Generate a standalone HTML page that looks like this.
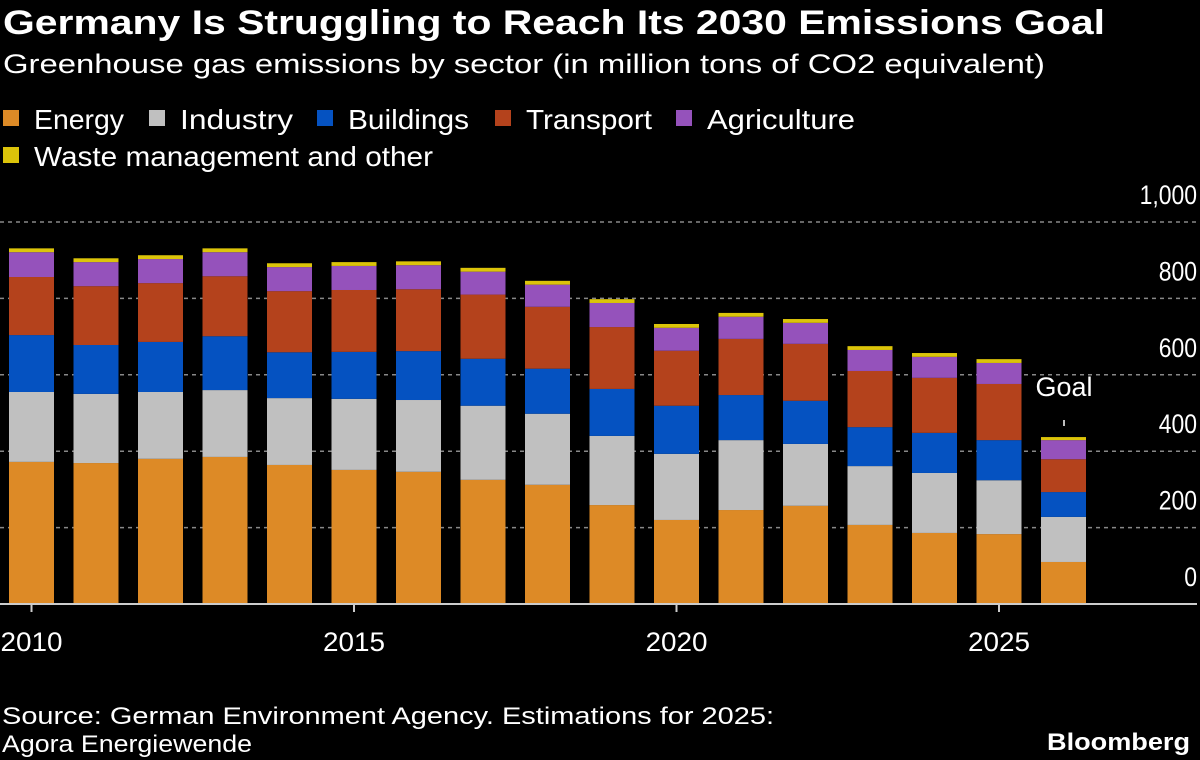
<!DOCTYPE html>
<html><head><meta charset="utf-8"><style>
html,body{margin:0;padding:0;background:#000;}
svg{display:block;font-family:"Liberation Sans",sans-serif;}
</style></head><body>
<svg id="chart" width="1200" height="760" viewBox="0 0 1200 760">
<rect width="1200" height="760" fill="#000"/>
<text x="3" y="34" font-size="34" font-weight="bold" fill="#fff" textLength="1102" lengthAdjust="spacingAndGlyphs">Germany Is Struggling to Reach Its 2030 Emissions Goal</text>
<text x="3" y="73" font-size="27" fill="#fff" textLength="1042" lengthAdjust="spacingAndGlyphs">Greenhouse gas emissions by sector (in million tons of CO2 equivalent)</text>
<g id="legend"></g>
<g id="grid"></g>
<g id="bars"></g>
<g id="axes"></g>
<text x="1064" y="396" font-size="27" fill="#fff" text-anchor="middle" textLength="57" lengthAdjust="spacingAndGlyphs">Goal</text>
<line x1="1064" y1="420" x2="1064" y2="426" stroke="#fff" stroke-width="1.5"/>
<text x="2" y="724" font-size="24" fill="#fff" textLength="772" lengthAdjust="spacingAndGlyphs">Source: German Environment Agency. Estimations for 2025:</text>
<text x="2" y="752" font-size="24" fill="#fff" textLength="250" lengthAdjust="spacingAndGlyphs">Agora Energiewende</text>
<text x="1190" y="750" font-size="24" font-weight="bold" fill="#fff" text-anchor="end" textLength="143" lengthAdjust="spacingAndGlyphs">Bloomberg</text>
</svg>
<script>
const years = [2010,2011,2012,2013,2014,2015,2016,2017,2018,2019,2020,2021,2022,2023,2024,2025,2026];
const energy = [372,369,380,385,364,351,346,325,312,259,220,246,257,207,186,183,110];
const industry = [183,181,175,175,175,186,188,194,186,181,173,183,162,154,157,141,118];
const buildings = [149,128,131,141,120,123,128,123,118,123,126,118,113,102,105,105,65];
const transport = [152,154,154,157,160,162,162,168,162,162,144,147,149,147,144,147,86];
const agriculture = [65,63,63,63,63,63,63,60,58,63,60,58,55,55,55,55,50];
const waste = [10,10,10,10,10,10,10,10,10,10,10,10,10,10,10,10,8];
const yTicks = [0,200,400,600,800,1000];
const yTickLabels = ["0","200","400","600","800","1,000"];
const xTickYears = [2010,2015,2020,2025];
const seriesNames = ["Energy","Industry","Buildings","Transport","Agriculture","Waste management and other"];

const colors = ["#dd8a26","#c0c0c0","#0552c1","#b4421c","#9552bb","#dcc40a"];
const NS = "http://www.w3.org/2000/svg";
function y(v){ return 604 - v*0.382; }
function x(yr){ return 9 + (yr-2010)*64.5; }
const barW = 45;
function mk(tag, attrs, parent){ const e=document.createElementNS(NS,tag); for(const k in attrs) e.setAttribute(k,attrs[k]); parent.appendChild(e); return e; }

const grid=document.getElementById('grid');
yTicks.forEach((t,i)=>{
  if(t>0){
    const l=mk('line',{x1:0,x2:1200,y1:y(t),y2:y(t),stroke:'#888','stroke-width':1.5,'stroke-dasharray':'4 4'},grid);
    
    
  }
  const tx=mk('text',{x:1197,y:y(t)-18,'font-size':27,fill:'#fff','text-anchor':'end',transform:'translate(1197 0) scale(0.85 1) translate(-1197 0)'},grid);
  tx.textContent=yTickLabels[i];
  
  
});

const series=[energy,industry,buildings,transport,agriculture,waste];
const bars=document.getElementById('bars');
years.forEach((yr,i)=>{
  let cum=0;
  series.forEach((s,k)=>{
    const v=s[i];
    const r=mk('rect',{x:x(yr),y:y(cum+v),width:barW,height:Math.max(0,y(cum)-y(cum+v)),fill:colors[k]},bars);
    
    
    cum+=v;
  });
});

const axes=document.getElementById('axes');
const ax=mk('line',{x1:0,x2:1197,y1:604,y2:604,stroke:'#ccc','stroke-width':2},axes);


xTickYears.forEach(yr=>{
  const cx=x(yr)+barW/2;
  const t=mk('line',{x1:cx,x2:cx,y1:604,y2:612,stroke:'#ccc','stroke-width':2},axes);
  
  
  const tx=mk('text',{x:cx-31,y:651,'font-size':27,fill:'#fff',textLength:62,lengthAdjust:'spacingAndGlyphs'},axes);
  tx.textContent=yr;
  
  
});

const legend=document.getElementById('legend');
const lpos=[[3,119],[149,119],[317,119],[495,119],[676,119],[3,156]];
const lStarts=[34,180,348,526,707,34];
const lEnds=[124,293,469,652,855,433];
seriesNames.forEach((n,k)=>{
  const [lx,ly]=lpos[k];
  const sq=mk('rect',{x:lx,y:ly-9,width:16,height:16,fill:colors[k]},legend);
  
  
  const tx=mk('text',{x:lStarts[k],y:ly+10,'font-size':28,fill:'#fff',textLength:lEnds[k]-lStarts[k],lengthAdjust:'spacingAndGlyphs'},legend);
  tx.textContent=n;
  
  
});
</script>
</body></html>
